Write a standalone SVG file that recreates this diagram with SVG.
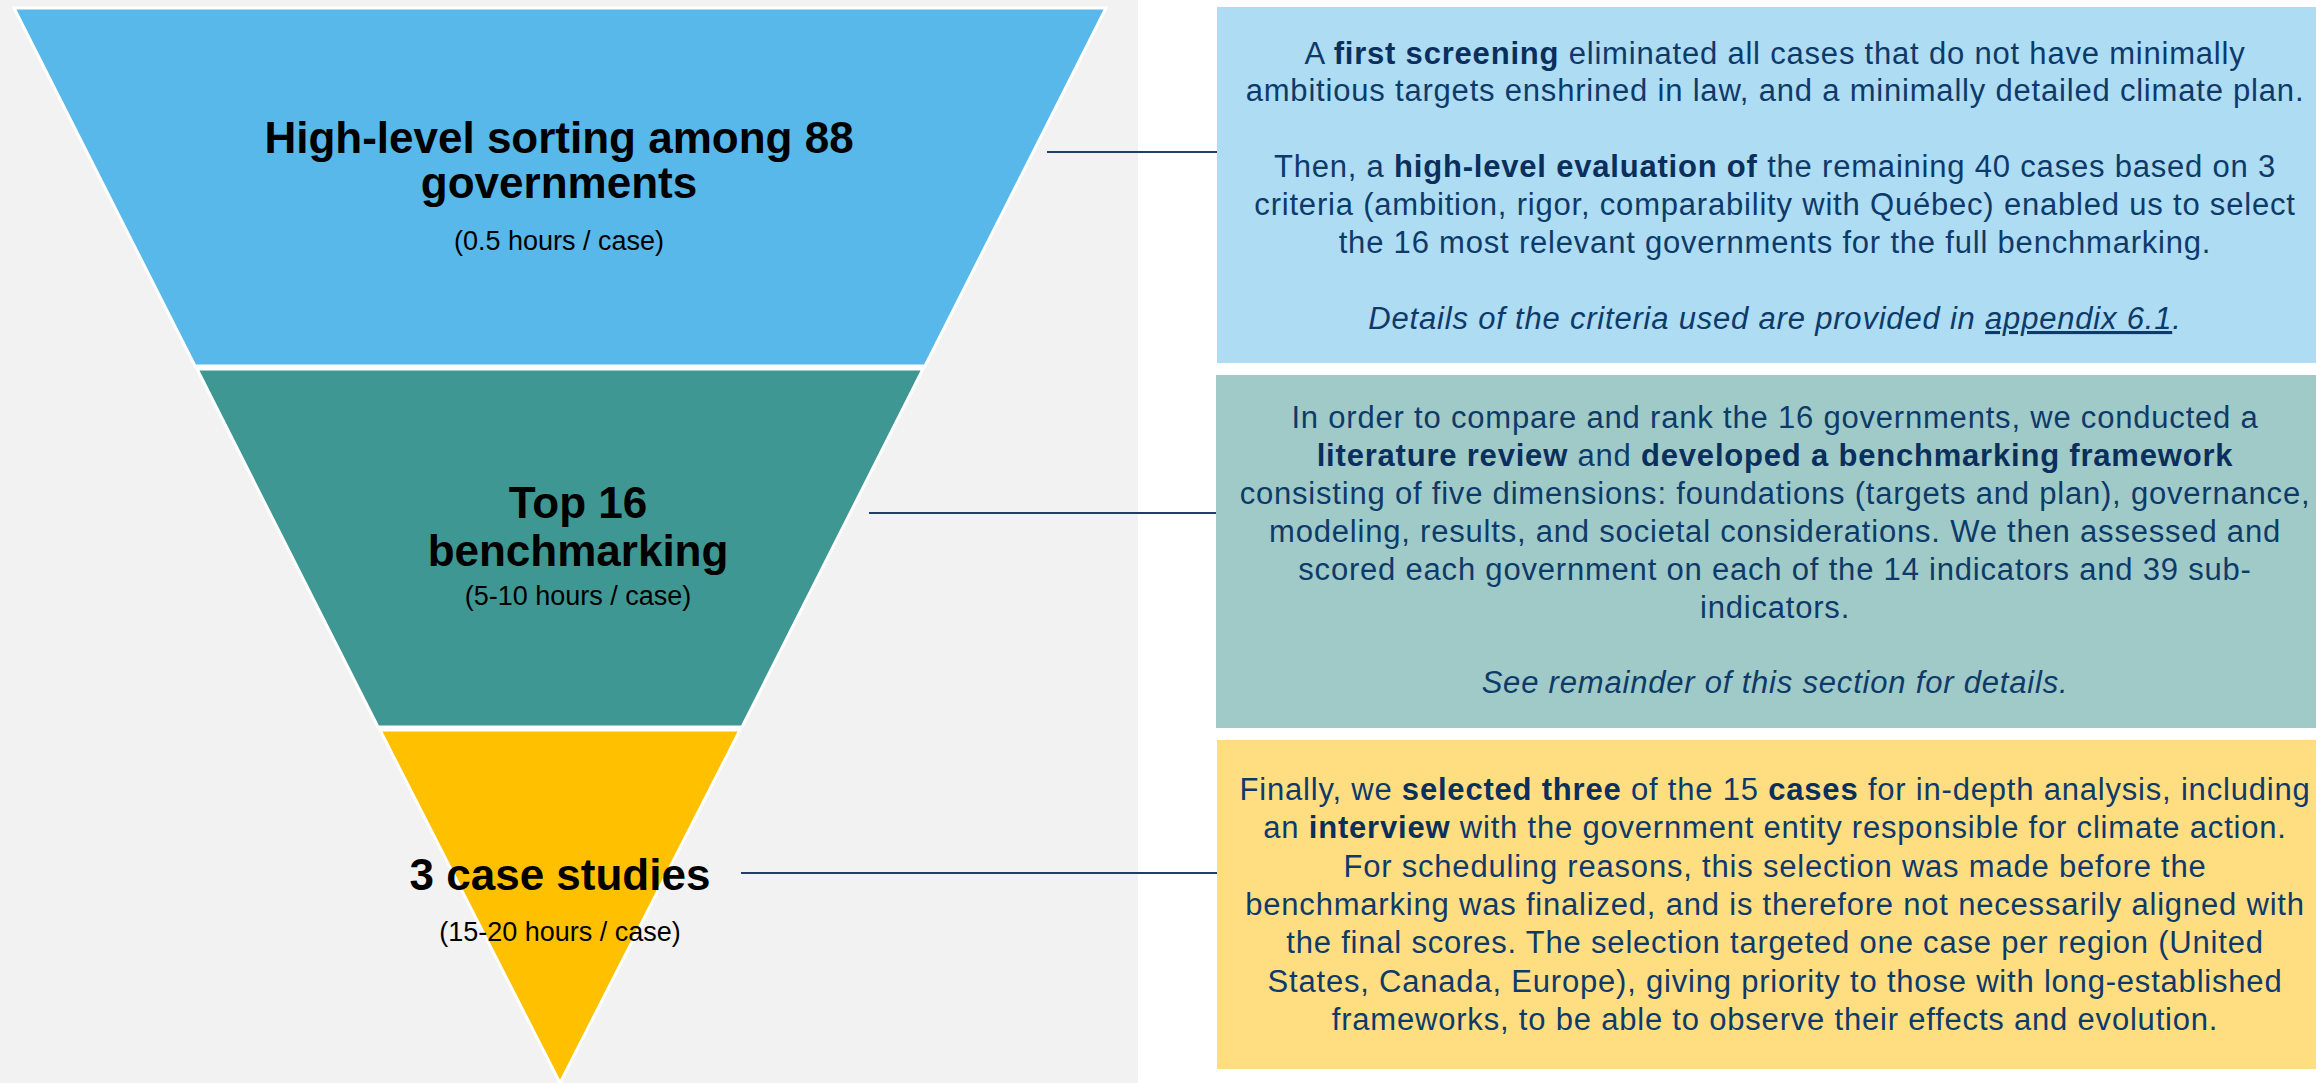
<svg xmlns="http://www.w3.org/2000/svg" width="2316" height="1083" viewBox="0 0 2316 1083">
<style>
.seg{stroke:#ffffff;stroke-width:3;stroke-linejoin:miter}
.title{font-family:"Liberation Sans",Arial,sans-serif;font-weight:bold;font-size:44px;fill:#000;text-anchor:middle}
.sub{font-family:"Liberation Sans",Arial,sans-serif;font-size:27px;fill:#000;text-anchor:middle}
.body{font-family:"Liberation Sans",Arial,sans-serif;font-size:31px;letter-spacing:0.8px;fill:#0E3A6A;text-anchor:middle}
.b{font-weight:bold;fill:#0B2F5C}
.i{font-style:italic}
.u{text-decoration:underline}
.conn{stroke:#1F3F6A;stroke-width:2;fill:none}
</style>
<rect x="0" y="0" width="2316" height="1083" fill="#ffffff"/>
<rect x="0" y="0" width="1138" height="1083" fill="#F2F2F2"/>

<g id="stage-1">
<polygon class="seg" points="14,8 1106,8 925,366 195,366" fill="#57B8E9"/>
<text class="title" x="559" y="153">High-level sorting among 88</text>
<text class="title" x="559" y="198">governments</text>
<text class="sub" x="559" y="250">(0.5 hours / case)</text>
</g>

<g id="stage-2">
<polygon class="seg" points="197,369 923,369 742,727 378,727" fill="#3F9793"/>
<text class="title" x="578" y="518">Top 16</text>
<text class="title" x="578" y="566">benchmarking</text>
<text class="sub" x="578" y="605">(5-10 hours / case)</text>
</g>

<g id="stage-3">
<polygon class="seg" points="380,730 740,730 560,1083" fill="#FFC000"/>
<text class="title" x="560" y="890">3 case studies</text>
<text class="sub" x="560" y="941">(15-20 hours / case)</text>
</g>

<g id="connectors">
<line class="conn" x1="1047" y1="152" x2="1217" y2="152"/>
<line class="conn" x1="869" y1="513" x2="1216" y2="513"/>
<line class="conn" x1="741" y1="873" x2="1217" y2="873"/>
</g>

<g id="box-1">
<rect x="1217" y="7" width="1099" height="356" fill="#ADDCF3"/>
<text class="body" x="1775" y="64">A <tspan class="b">first screening</tspan> eliminated all cases that do not have minimally</text>
<text class="body" x="1775" y="101">ambitious targets enshrined in law, and a minimally detailed climate plan.</text>
<text class="body" x="1775" y="177">Then, a <tspan class="b">high-level evaluation of</tspan> the remaining 40 cases based on 3</text>
<text class="body" x="1775" y="215">criteria (ambition, rigor, comparability with Québec) enabled us to select</text>
<text class="body" x="1775" y="253">the 16 most relevant governments for the full benchmarking.</text>
<text class="body i" x="1775" y="329">Details of the criteria used are provided in <tspan class="u">appendix 6.1</tspan>.</text>
</g>

<g id="box-2">
<rect x="1216" y="375" width="1100" height="353" fill="#A0CAC7"/>
<text class="body" x="1775" y="428">In order to compare and rank the 16 governments, we conducted a</text>
<text class="body" x="1775" y="466"><tspan class="b">literature review</tspan> and <tspan class="b">developed a benchmarking framework</tspan></text>
<text class="body" x="1775" y="504">consisting of five dimensions: foundations (targets and plan), governance,</text>
<text class="body" x="1775" y="542">modeling, results, and societal considerations. We then assessed and</text>
<text class="body" x="1775" y="580">scored each government on each of the 14 indicators and 39 sub-</text>
<text class="body" x="1775" y="618">indicators.</text>
<text class="body i" x="1775" y="693">See remainder of this section for details.</text>
</g>

<g id="box-3">
<rect x="1217" y="740" width="1099" height="329" fill="#FFDE82"/>
<text class="body" x="1775" y="800">Finally, we <tspan class="b">selected three</tspan> of the 15 <tspan class="b">cases</tspan> for in-depth analysis, including</text>
<text class="body" x="1775" y="838">an <tspan class="b">interview</tspan> with the government entity responsible for climate action.</text>
<text class="body" x="1775" y="877">For scheduling reasons, this selection was made before the</text>
<text class="body" x="1775" y="915">benchmarking was finalized, and is therefore not necessarily aligned with</text>
<text class="body" x="1775" y="953">the final scores. The selection targeted one case per region (United</text>
<text class="body" x="1775" y="992">States, Canada, Europe), giving priority to those with long-established</text>
<text class="body" x="1775" y="1030">frameworks, to be able to observe their effects and evolution.</text>
</g>
</svg>
